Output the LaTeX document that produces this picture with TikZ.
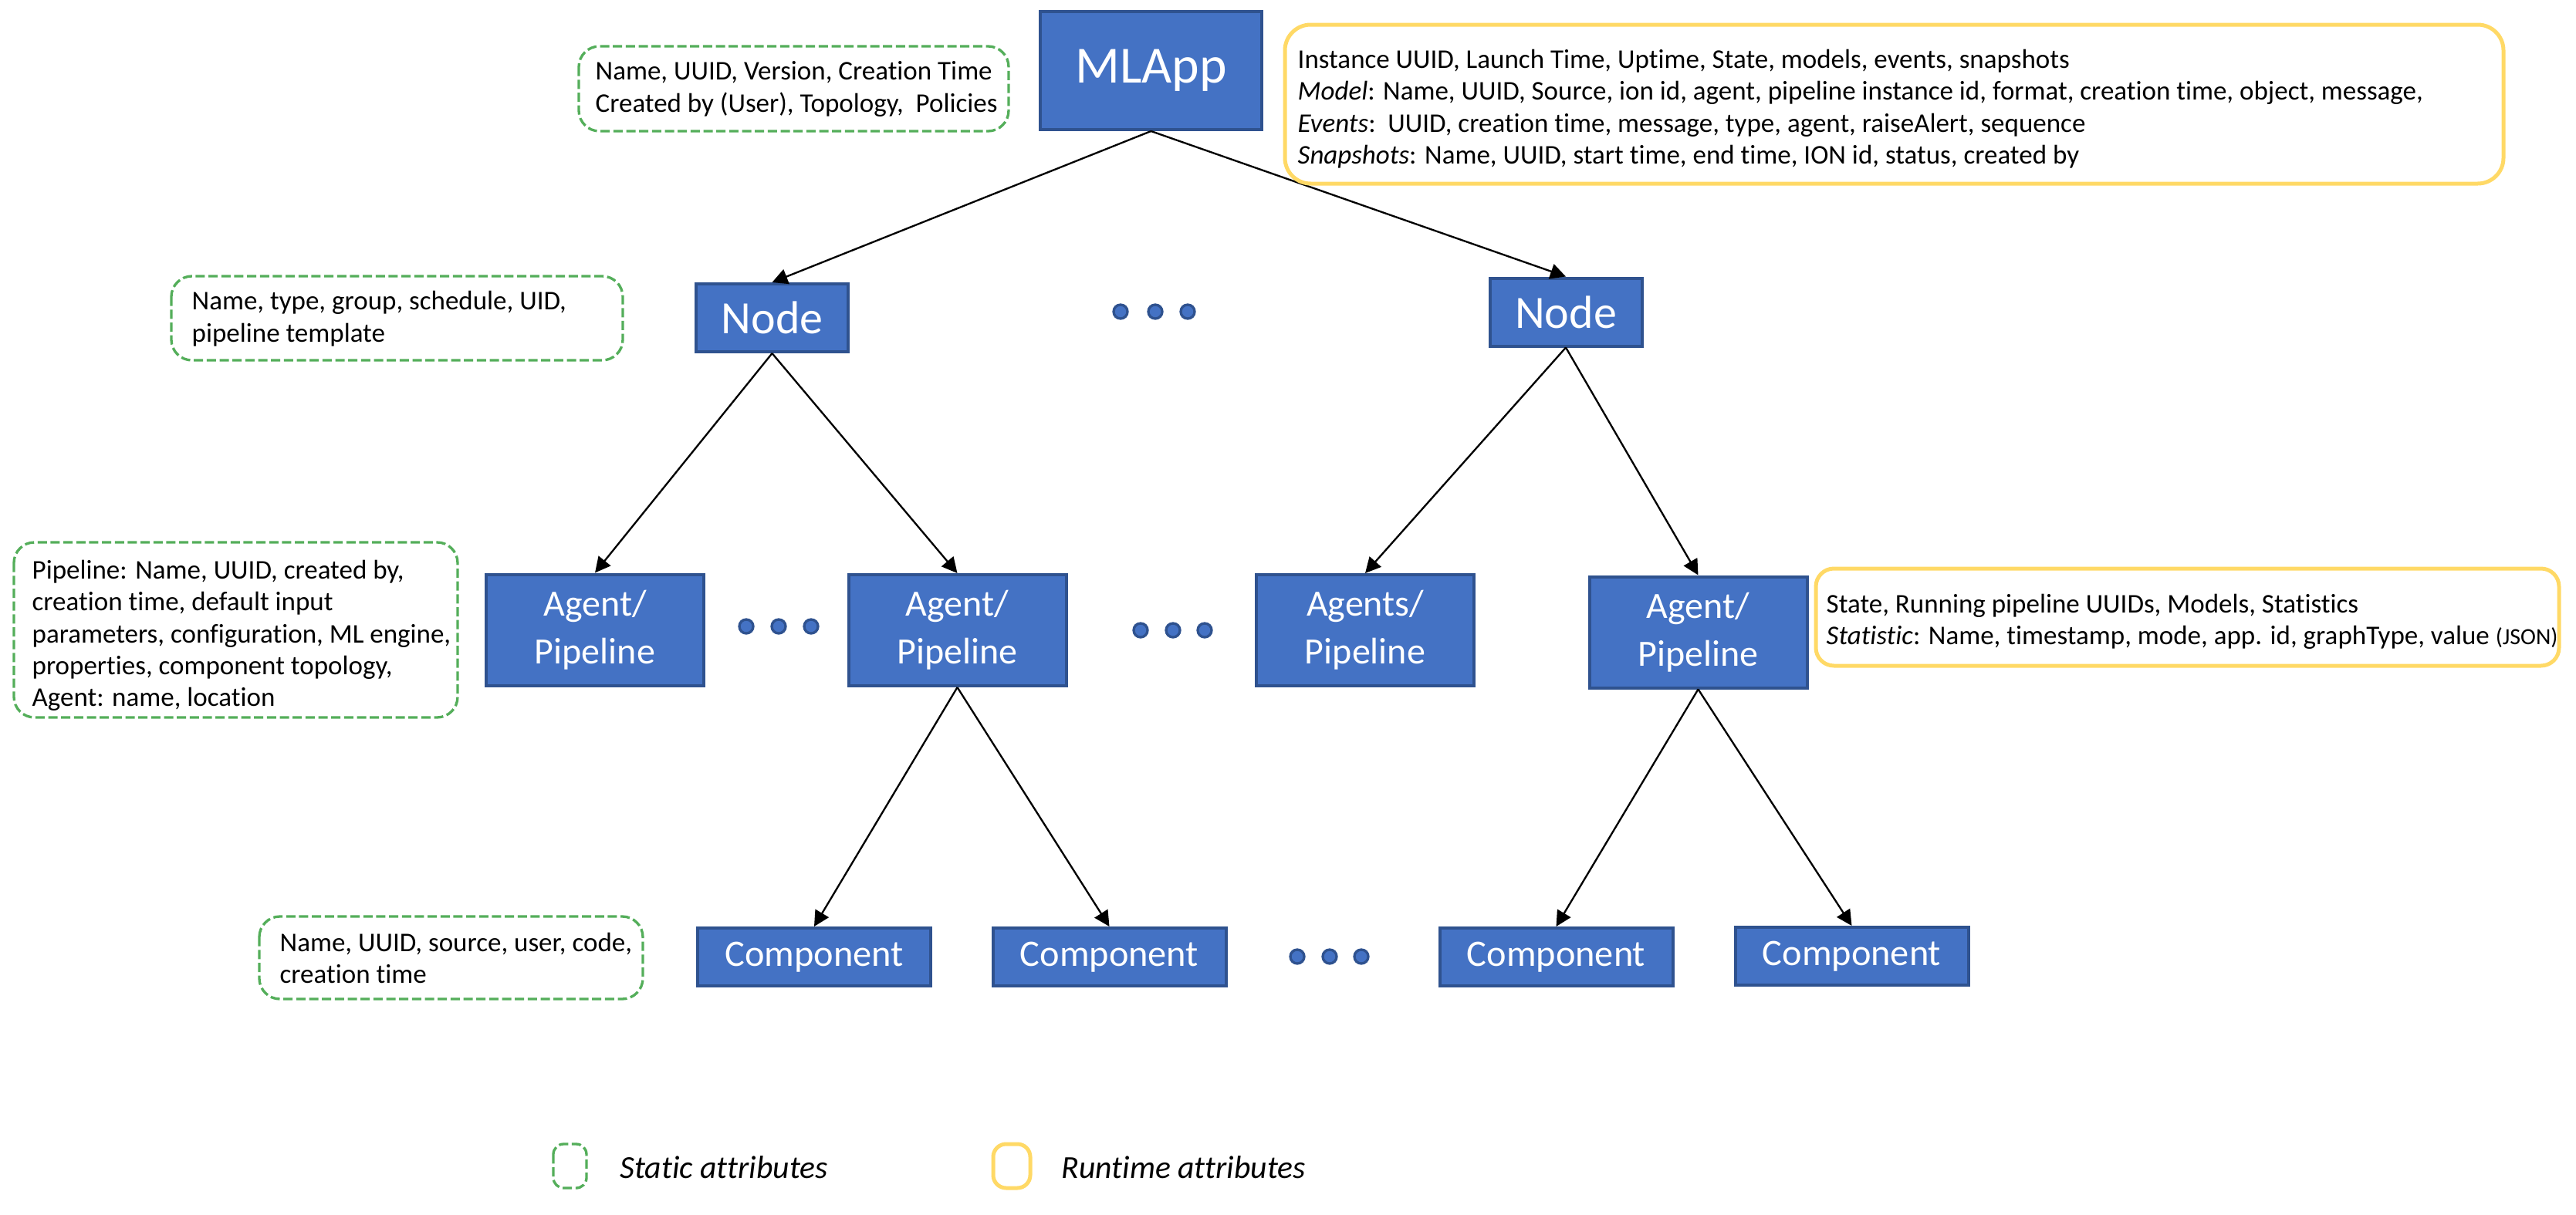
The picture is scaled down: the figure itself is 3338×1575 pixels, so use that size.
\documentclass[tikz,border=0pt]{standalone}
\usepackage{fontspec}
\setmainfont{Carlito}[Ligatures=NoCommon]
\usetikzlibrary{arrows.meta}
\definecolor{boxfill}{HTML}{4472C4}
\definecolor{boxline}{HTML}{2F528F}
\definecolor{statgreen}{RGB}{84,174,90}
\definecolor{rungold}{HTML}{FFD966}
\newcommand{\attrfont}{\fontsize{10.5}{12.4}\selectfont}
\begin{document}
\begin{tikzpicture}[x=0.3pt,y=-0.3pt,
  blk/.style={draw=boxline, fill=boxfill, line width=1.2pt, text=white, inner sep=0pt, align=center},
  appbox/.style={blk, minimum width=86.1pt, minimum height=45.9pt, font=\fontsize{20.3}{24}\selectfont},
  nodebox/.style={blk, minimum width=59.1pt, minimum height=26.4pt, font=\fontsize{18}{22}\selectfont},
  agentbox/.style={blk, minimum width=84.6pt, minimum height=43.2pt, font=\fontsize{14.4}{18.6}\selectfont},
  compbox/.style={blk, minimum width=90.6pt, minimum height=22.5pt, font=\fontsize{14.5}{17}\selectfont},
  statbox/.style={draw=statgreen, line width=1pt, dash pattern=on 3.6pt off 1.4pt, rounded corners=8pt},
  runbox/.style={draw=rungold, line width=1.5pt, rounded corners=#1},
  attr/.style={anchor=west, inner sep=0pt, align=left, font=\attrfont},
  dot/.style={circle, draw=boxline, fill=boxfill, line width=1pt, minimum size=5.4pt, inner sep=0pt},
  conn/.style={-{Triangle[length=6pt,width=6pt]}, line width=0.7pt, black}
]
\useasboundingbox (0,0) rectangle (3338,1575);

% main boxes
\node[appbox] (app) at (1491.5,91.5) {MLApp};
\node[nodebox] (nl) at (1000.5,412) {Node};
\node[nodebox] (nr) at (2029,404.5) {Node};
\node[agentbox] (a1) at (771,816.5) {Agent/\\Pipeline};
\node[agentbox] (a2) at (1240.5,817) {Agent/\\Pipeline};
\node[agentbox] (a3) at (1769,817) {Agents/\\Pipeline};
\node[agentbox] (a4) at (2200.5,819.5) {Agent/\\Pipeline};
\node[compbox] (c1) at (1055,1240.5) {Component};
\node[compbox] (c2) at (1437.5,1240.5) {Component};
\node[compbox] (c3) at (2016.5,1240.5) {Component};
\node[compbox] (c4) at (2399.5,1239.5) {Component};

% connectors
\draw[conn] (app.south) -- (nl.north);
\draw[conn] (app.south) -- (nr.north);
\draw[conn] (nl.south) -- (a1.north);
\draw[conn] (nl.south) -- (a2.north);
\draw[conn] (nr.south) -- (a3.north);
\draw[conn] (nr.south) -- (a4.north);
\draw[conn] (a2.south) -- (c1.north);
\draw[conn] (a2.south) -- (c2.north);
\draw[conn] (a4.south) -- (c3.north);
\draw[conn] (a4.south) -- (c4.north);

% dots
\node[dot] (d1) at (1452,404) {};
\node[dot] (d2) at (1497,404) {};
\node[dot] (d3) at (1539,404) {};
\node[dot] (d4) at (967,812) {};
\node[dot] (d5) at (1009,812) {};
\node[dot] (d6) at (1051,812) {};
\node[dot] (d7) at (1478,817) {};
\node[dot] (d8) at (1520,817) {};
\node[dot] (d9) at (1561,817) {};
\node[dot] (d10) at (1681,1240) {};
\node[dot] (d11) at (1723,1240) {};
\node[dot] (d12) at (1764,1240) {};

% attribute boxes
\draw[statbox] (750,60) rectangle (1307,170);
\node[attr] (t1) at (771,115.5) {Name, UUID, Version, Creation Time\\Created by (User), Topology,\ \ Policies};

\draw[runbox=10pt] (1665,32) rectangle (3244,238);
\node[attr] (t2) at (1681,141) {Instance UUID, Launch Time, Uptime, State, models, events, snapshots\\
\textit{Model}: Name, UUID, Source, ion id, agent, pipeline instance id, format, creation time, object, message,\\
\textit{Events}:\ \ UUID, creation time, message, type, agent, raiseAlert, sequence\\
\textit{Snapshots}: Name, UUID, start time, end time, ION id, status, created by};

\draw[statbox] (222,358) rectangle (807,467);
\node[attr] (t3) at (248,413) {Name, type, group, schedule, UID,\\pipeline template};

\draw[statbox] (18,703) rectangle (593,930);
\node[attr] (t4) at (41,824) {Pipeline: Name, UUID, created by,\\creation time, default input\\parameters, configuration, ML engine,\\properties, component topology,\\Agent: name, location};

\draw[runbox=7pt] (2353,737) rectangle (3316,863);
\node[attr] (t5) at (2366,806) {State, Running pipeline UUIDs, Models, Statistics\\
\textit{Statistic}: Name, timestamp, mode, app. id, graphType, value {\fontsize{9}{10}\selectfont (JSON)}};

\draw[statbox] (336,1188) rectangle (833,1295);
\node[attr] (t6) at (362,1242) {Name, UUID, source, user, code,\\creation time};

% legend
\draw[statbox, rounded corners=4pt] (717,1483) rectangle (760,1540);
\node[anchor=base west, inner sep=0pt, font=\fontsize{12.5}{15}\selectfont\itshape] (l1) at (803,1527) {Static attributes};
\draw[runbox=5pt] (1287,1483) rectangle (1335,1540);
\node[anchor=base west, inner sep=0pt, font=\fontsize{12.5}{15}\selectfont\itshape] (l2) at (1375,1527) {Runtime attributes};
\end{tikzpicture}
\end{document}
